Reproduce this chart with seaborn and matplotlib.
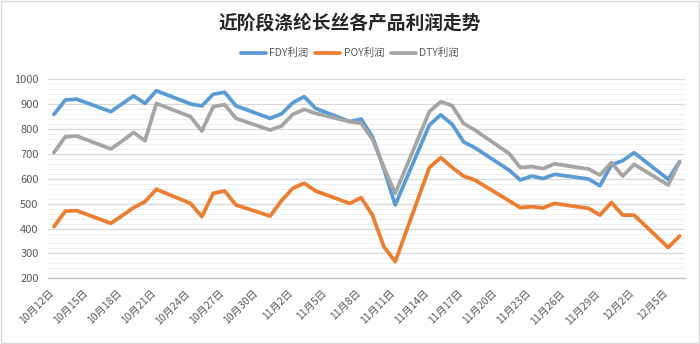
import re
import matplotlib
matplotlib.use("Agg")
import matplotlib.pyplot as plt
import seaborn as sns
import pandas as pd
import numpy as np
from matplotlib.ticker import MultipleLocator, FixedLocator, FixedFormatter
from matplotlib.patches import Rectangle

# ---------------- data ----------------
year = 2022
dates = ["10-12", "10-13", "10-14", "10-17", "10-18", "10-19", "10-20", "10-21",
         "10-24", "10-25", "10-26", "10-27", "10-28", "10-31", "11-01", "11-02",
         "11-03", "11-04", "11-07", "11-08", "11-09", "11-10", "11-11", "11-14",
         "11-15", "11-16", "11-17", "11-18", "11-21", "11-22", "11-23", "11-24",
         "11-25", "11-28", "11-29", "11-30", "12-01", "12-02", "12-05", "12-06"]
fdy = [859, 917, 920, 870, 902, 933, 903, 954,
       901, 893, 940, 948, 893, 843, 861, 906,
       930, 883, 830, 840, 769, 640, 495, 816,
       857, 819, 749, 725, 635, 595, 611, 601,
       618, 599, 572, 656, 673, 705, 598, 669]
poy = [408, 470, 472, 421, 452, 484, 508, 558,
       501, 448, 542, 551, 495, 450, 512, 562,
       582, 551, 501, 524, 454, 327, 267, 645,
       685, 646, 611, 595, 512, 484, 488, 483,
       501, 481, 454, 505, 454, 454, 324, 370]
dty = [706, 769, 772, 720, 752, 786, 753, 903,
       850, 792, 890, 898, 843, 796, 812, 859,
       879, 863, 830, 823, 759, 646, 542, 870,
       910, 894, 823, 796, 702, 645, 649, 641,
       660, 639, 615, 665, 611, 658, 575, 669]
series_names = ["FDY利润", "POY利润", "DTY利润"]
tick_labels = ["10月12日", "10月15日", "10月18日", "10月21日", "10月24日", "10月27日",
               "10月30日", "11月2日", "11月5日", "11月8日", "11月11日", "11月14日",
               "11月17日", "11月20日", "11月23日", "11月26日", "11月29日", "12月2日",
               "12月5日"]
title = "近阶段涤纶长丝各产品利润走势"
colors = ["#5B9BD5", "#ED7D31", "#A5A5A5"]

# ---------------- style ----------------
sns.set_theme(style="white")
plt.rcParams['font.family'] = ['Noto Sans CJK SC', 'DejaVu Sans']

d = pd.to_datetime([f"{year}-{s}" for s in dates])
start = d[0]
xpos = np.asarray((d - start).days, dtype=float) + 0.5

df = pd.DataFrame({
    "x": np.tile(xpos, 3),
    "value": fdy + poy + dty,
    "series": np.repeat(series_names, len(dates)),
})

def label_to_day(lbl):
    m, dd = re.match(r"(\d+)月(\d+)日", lbl).groups()
    return (pd.Timestamp(year=year, month=int(m), day=int(dd)) - start).days

tick_pos = [label_to_day(t) for t in tick_labels]
end_day = (d[-1] - start).days + 1

fig = plt.figure(figsize=(7, 3.44), dpi=100)
ax = fig.add_axes([0.069, 0.191, 0.910, 0.5785])

sns.lineplot(data=df, x="x", y="value", hue="series", hue_order=series_names,
             palette=colors, linewidth=2.7, ax=ax, sort=False, legend=False)

ax.set_xlim(0, end_day)
ax.set_ylim(200, 1000)
ax.yaxis.set_major_locator(MultipleLocator(100))
ax.yaxis.set_minor_locator(MultipleLocator(20))
ax.grid(which="major", axis="y", color="#D9D9D9", linewidth=0.9)
ax.grid(which="minor", axis="y", color="#F0F0F0", linewidth=0.7)
ax.grid(which="both", axis="x", visible=False)
ax.set_axisbelow(True)

ax.xaxis.set_major_locator(FixedLocator(tick_pos))
ax.xaxis.set_major_formatter(FixedFormatter(tick_labels))
for lbl in ax.get_xticklabels():
    lbl.set_rotation(45)
    lbl.set_ha("right")
    lbl.set_rotation_mode("anchor")

ax.tick_params(axis="x", which="major", direction="out", length=4, width=0.8,
               color="#BFBFBF", labelsize=7.5, labelcolor="#595959", pad=3)
ax.tick_params(axis="y", which="both", length=0, labelsize=8, labelcolor="#595959", pad=7)

for s in ["left", "right", "top"]:
    ax.spines[s].set_visible(False)
ax.spines["bottom"].set_color("#BFBFBF")
ax.spines["bottom"].set_linewidth(0.9)
ax.set_xlabel("")
ax.set_ylabel("")

handles = ax.get_lines()[:3]
fig.legend(handles, series_names, loc="center", bbox_to_anchor=(0.5, 0.845),
           ncol=3, frameon=False, fontsize=7.5, handlelength=2.4,
           columnspacing=0.7, handletextpad=0.3, labelcolor="#595959")

fig.text(0.5, 0.932, title, ha="center", va="center", fontsize=13.5,
         fontweight="bold", color="#262626")

fig.patches.append(Rectangle((0.001, 0.002), 0.997, 0.995, transform=fig.transFigure,
                             fill=False, edgecolor="#D9D9D9", linewidth=1))

fig.savefig("out.png", dpi=100)
